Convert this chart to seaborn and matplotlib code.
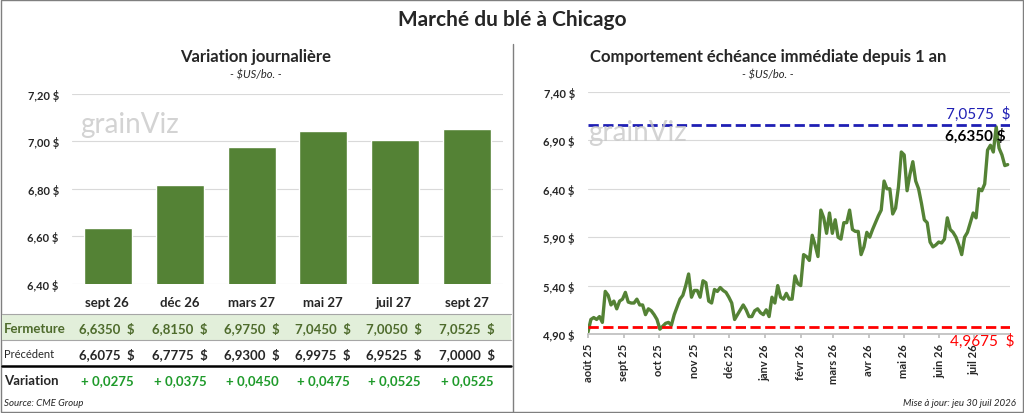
import numpy as np
import pandas as pd
import matplotlib
matplotlib.use("Agg")
import matplotlib.pyplot as plt
from matplotlib.patches import Rectangle
from matplotlib.lines import Line2D
import seaborn as sns

sns.set_theme(style="white")
plt.rcParams['font.family'] = ['Lato', 'DejaVu Sans']

# --- data ---
contracts = ['sept 26', 'déc 26', 'mars 27', 'mai 27', 'juil 27', 'sept 27']
fermeture = [6.6350, 6.8150, 6.9750, 7.0450, 7.0050, 7.0525]
precedent = [6.6075, 6.7775, 6.9300, 6.9975, 6.9525, 7.0000]
variation = [0.0275, 0.0375, 0.0450, 0.0475, 0.0525, 0.0525]

history = [4.92, 5.05, 5.07, 5.05, 5.08, 5.02, 5.34, 5.30, 5.20, 5.24, 5.16, 5.24, 5.26, 5.33,
           5.23, 5.22, 5.22, 5.26, 5.20, 5.20, 5.10, 5.16, 5.14, 5.10, 5.05, 4.95, 4.98, 5.01,
           5.02, 4.99, 5.10, 5.18, 5.26, 5.30, 5.40, 5.52, 5.28, 5.35, 5.35, 5.28, 5.45, 5.43,
           5.24, 5.22, 5.36, 5.34, 5.38, 5.35, 5.33, 5.28, 5.22, 5.05, 5.10, 5.15, 5.20, 5.15,
           5.08, 5.08, 5.14, 5.16, 5.12, 5.10, 5.15, 5.08, 5.28, 5.22, 5.40, 5.28, 5.26, 5.32,
           5.26, 5.26, 5.50, 5.42, 5.40, 5.72, 5.70, 5.66, 5.92, 5.82, 5.70, 6.18, 6.10, 5.94,
           6.15, 5.94, 6.08, 5.90, 5.88, 6.05, 6.05, 6.18, 5.98, 5.96, 5.96, 5.72, 5.80, 5.95,
           5.90, 5.98, 6.05, 6.12, 6.18, 6.48, 6.40, 6.40, 6.14, 6.20, 6.42, 6.78, 6.75, 6.38,
           6.55, 6.68, 6.48, 6.40, 6.25, 6.08, 6.05, 5.85, 5.80, 5.82, 5.85, 5.84, 5.88, 6.10,
           5.98, 5.95, 5.90, 5.82, 5.72, 5.90, 5.95, 6.05, 6.15, 6.10, 6.40, 6.38, 6.45, 6.80,
           6.85, 6.78, 7.04, 6.82, 6.75, 6.64, 6.65]
high_1y = 7.0575
low_1y = 4.9675
last_close = 6.6350
month_labels = ['août 25', 'sept 25', 'oct 25', 'nov 25', 'déc 25', 'janv 26', 'févr 26',
                'mars 26', 'avr 26', 'mai 26', 'juin 26', 'juil 26']

dates = pd.date_range('2025-08-01', '2026-07-30', periods=len(history))
hist_df = pd.DataFrame({'date': dates, 'prix': history})
bar_df = pd.DataFrame({'contrat': contracts, 'fermeture': fermeture})

GREEN = '#548235'
W, H = 1024, 414
fig = plt.figure(figsize=(W / 100, H / 100), dpi=100)

def px_axes(x0, y0, x1, y1):
    return fig.add_axes([x0 / W, 1 - y1 / H, (x1 - x0) / W, (y1 - y0) / H])

def ptext(x, y, s, **kw):
    fig.text(x / W, 1 - y / H, s, **kw)

def phline(x0, x1, y, **kw):
    fig.add_artist(Line2D([x0 / W, x1 / W], [1 - y / H, 1 - y / H], transform=fig.transFigure, **kw))

# frames
fig.add_artist(Rectangle((1 / W, 1 / H), 1 - 2 / W, 1 - 2 / H, transform=fig.transFigure,
                         fill=False, ec='#7f7f7f', lw=1))
fig.add_artist(Line2D([513 / W, 513 / W], [1 / H, 1 - 45 / H], transform=fig.transFigure,
                      color='#7f7f7f', lw=1))

ptext(512, 20, 'Marché du blé à Chicago', ha='center', va='center', fontsize=15, fontweight='bold')
ptext(256, 57, 'Variation journalière', ha='center', va='center', fontsize=12, fontweight='bold')
ptext(256, 75, '- $US/bo. -', ha='center', va='center', fontsize=8, style='italic')
ptext(768, 57, 'Comportement échéance immédiate depuis 1 an', ha='center', va='center',
      fontsize=12, fontweight='bold')
ptext(768, 75, '- $US/bo. -', ha='center', va='center', fontsize=8, style='italic')

# --- left: bars ---
ax = px_axes(72, 95, 503, 285)
sns.barplot(data=bar_df, x='contrat', y='fermeture', color=GREEN, saturation=1, width=0.67, ax=ax)
ax.set_ylim(6.40, 7.20)
ax.set_yticks(np.arange(6.40, 7.21, 0.20))
ax.set_yticklabels([f'{v:.2f} $'.replace('.', ',') for v in np.arange(6.40, 7.21, 0.20)],
                   fontsize=8, fontweight='bold')
ax.set_xticks([])
ax.set_xlabel('')
ax.set_ylabel('')
ax.grid(axis='y', color='#d9d9d9', lw=0.8)
ax.set_axisbelow(True)
for s in ax.spines.values():
    s.set_visible(False)
ax.text(0.02, 0.80, 'grainViz', transform=ax.transAxes, fontsize=20, color='#c8c8c8', alpha=0.8)

# --- left: table ---
col_x = [107, 180, 252, 323, 394, 467]
fig.add_artist(Rectangle((2 / W, 1 - 341 / H), 509 / W, 26 / H, transform=fig.transFigure,
                         fc='#e2efda', ec='none'))
phline(2, 511, 315, color='#a6a6a6', lw=0.8)
phline(2, 511, 341, color='#a6a6a6', lw=0.8)
phline(2, 511, 367, color='black', lw=1.8)
for cx, c, f, p, v in zip(col_x, contracts, fermeture, precedent, variation):
    ptext(cx, 303, c, ha='center', va='center', fontsize=9.5, fontweight='bold')
    ptext(cx, 329, f'{f:.4f}  $'.replace('.', ','), ha='center', va='center', fontsize=9.5,
          fontweight='bold', color='#4e6b2c')
    ptext(cx, 355, f'{p:.4f}  $'.replace('.', ','), ha='center', va='center', fontsize=9.5,
          fontweight='bold')
    ptext(cx, 381, f'+ {v:.4f}'.replace('.', ','), ha='center', va='center', fontsize=9.5,
          fontweight='bold', color='#1e9a2a')
ptext(4, 329, 'Fermeture', va='center', fontsize=9.5, fontweight='bold', color='#4e6b2c')
ptext(4, 355, 'Précédent', va='center', fontsize=8)
ptext(4, 381, 'Variation', va='center', fontsize=9.5, fontweight='bold')
ptext(4, 404, 'Source: CME Group', va='center', fontsize=7, style='italic')
ptext(1016, 404, 'Mise à jour: jeu 30 juil 2026', ha='right', va='center', fontsize=7, style='italic')

# --- right: line ---
ax2 = px_axes(588, 93, 1010, 335)
sns.lineplot(data=hist_df, x='date', y='prix', color=GREEN, lw=2.4, ax=ax2)
ax2.axhline(high_1y, color='#1f1fb4', ls='--', lw=2)
ax2.axhline(low_1y, color='#ff0000', ls='--', lw=2)
ax2.set_ylim(4.90, 7.40)
ax2.set_xlim(pd.Timestamp('2025-08-01'), pd.Timestamp('2026-08-01'))
yt = np.arange(4.90, 7.41, 0.50)
ax2.set_yticks(yt)
ax2.set_yticklabels([f'{v:.2f} $'.replace('.', ',') for v in yt], fontsize=8, fontweight='bold')
mt = pd.date_range('2025-08-01', periods=12, freq='MS')
ax2.set_xticks(mt)
ax2.set_xticklabels(month_labels, rotation=90, fontsize=8, fontweight='bold')
ax2.tick_params(axis='x', length=3, bottom=True, color='#bfbfbf')
ax2.set_xlabel('')
ax2.set_ylabel('')
ax2.grid(axis='y', color='#d9d9d9', lw=0.8)
for s in ax2.spines.values():
    s.set_visible(False)
ax2.spines['bottom'].set_visible(True)
ax2.spines['bottom'].set_color('#bfbfbf')
ax2.text(0.0, 0.80, 'grainViz', transform=ax2.transAxes, fontsize=20, color='#c8c8c8', alpha=0.8)
ax2.text(1.0, high_1y + 0.04, f'{high_1y:.4f}  $'.replace('.', ','), transform=ax2.get_yaxis_transform(),
         ha='right', va='bottom', fontsize=11, color='#1f1fb4')
ax2.text(0.99, high_1y - 0.03, f'{last_close:.4f} $'.replace('.', ','), transform=ax2.get_yaxis_transform(),
         ha='right', va='top', fontsize=11, fontweight='bold', color='black')
ax2.text(1.01, low_1y - 0.05, f'{low_1y:.4f}  $'.replace('.', ','), transform=ax2.get_yaxis_transform(),
         ha='right', va='top', fontsize=11, color='#ff0000')

fig.savefig('out.png', dpi=100)
